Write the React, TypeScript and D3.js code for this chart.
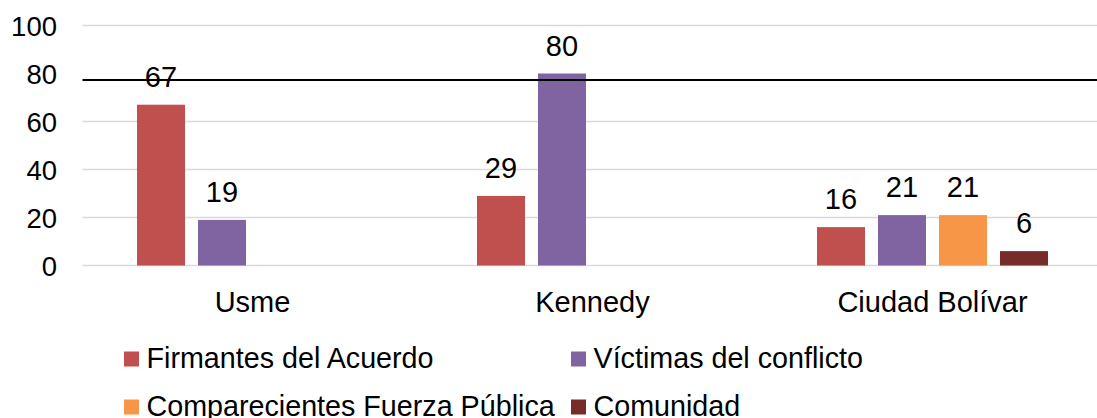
import * as d3 from "d3";

const categories = ["Usme", "Kennedy", "Ciudad Bolívar"];
const seriesNames = [
  "Firmantes del Acuerdo",
  "Víctimas del conflicto",
  "Comparecientes Fuerza Pública",
  "Comunidad",
];
const seriesColors = ["#C0504D", "#8064A2", "#F79646", "#772C2A"];
// null = no bar for that category
const firmantes = [67, 29, 16];
const victimas = [19, 80, 21];
const comparecientes = [null, null, 21];
const comunidad = [null, null, 6];
const yTicks = [0, 20, 40, 60, 80, 100];
const refLineValue = 77.3;

const W = 1097;
const H = 418;
const font = "'Liberation Sans', Arial, sans-serif";

export default function App() {
  const seriesValues = [firmantes, victimas, comparecientes, comunidad];

  const y = d3.scaleLinear().domain([0, 100]).range([265.5, 25.5]);
  const x0 = d3.scaleBand<string>().domain(categories).range([82.5, 1102.5]);
  const x1 = d3
    .scaleBand<string>()
    .domain(seriesNames)
    .range([54.5, 285.5])
    .paddingInner(0.213);

  return (
    <svg
      width={W}
      height={H}
      style={{ position: "absolute", left: 0, top: 0 }}
      fontFamily={font}
    >
      <rect width={W} height={H} fill="#fff" />
      {/* grid (the 80 line is covered by the black reference line) */}
      {yTicks
        .filter((t) => t !== 80)
        .map((t) => (
          <line
            key={t}
            x1={82.5}
            x2={W}
            y1={y(t)}
            y2={y(t)}
            stroke="#D9D9D9"
            strokeWidth={1.5}
          />
        ))}
      {yTicks.map((t) => (
        <text
          key={"t" + t}
          x={57}
          y={y(t) + 10}
          textAnchor="end"
          fontSize={27.5}
          fill="#000"
        >
          {t}
        </text>
      ))}
      {/* bars */}
      {categories.map((c, ci) => (
        <g key={c} transform={`translate(${x0(c)},0)`}>
          {seriesNames.map((s, si) => {
            const v = seriesValues[si][ci];
            if (v == null) return null;
            const bx = x1(s)!;
            return (
              <g key={s}>
                <rect
                  x={bx}
                  y={y(v)}
                  width={x1.bandwidth()}
                  height={y(0) - y(v)}
                  fill={seriesColors[si]}
                />
                <text
                  x={bx + x1.bandwidth() / 2}
                  y={y(v) - 18}
                  textAnchor="middle"
                  fontSize={29}
                >
                  {v}
                </text>
              </g>
            );
          })}
          <text
            x={x0.bandwidth() / 2}
            y={312}
            textAnchor="middle"
            fontSize={29}
          >
            {c}
          </text>
        </g>
      ))}
      <line
        x1={82.5}
        x2={W}
        y1={y(refLineValue)}
        y2={y(refLineValue)}
        stroke="#000"
        strokeWidth={2}
      />
      {/* legend */}
      {seriesNames.map((s, i) => {
        const lx = i % 2 === 0 ? 124 : 571;
        const ly = 367.5 + Math.floor(i / 2) * 48;
        return (
          <g key={"l" + s}>
            <rect x={lx} y={ly - 16} width={15} height={15} fill={seriesColors[i]} />
            <text x={lx + 22.5} y={ly} fontSize={28.7}>
              {s}
            </text>
          </g>
        );
      })}
    </svg>
  );
}
